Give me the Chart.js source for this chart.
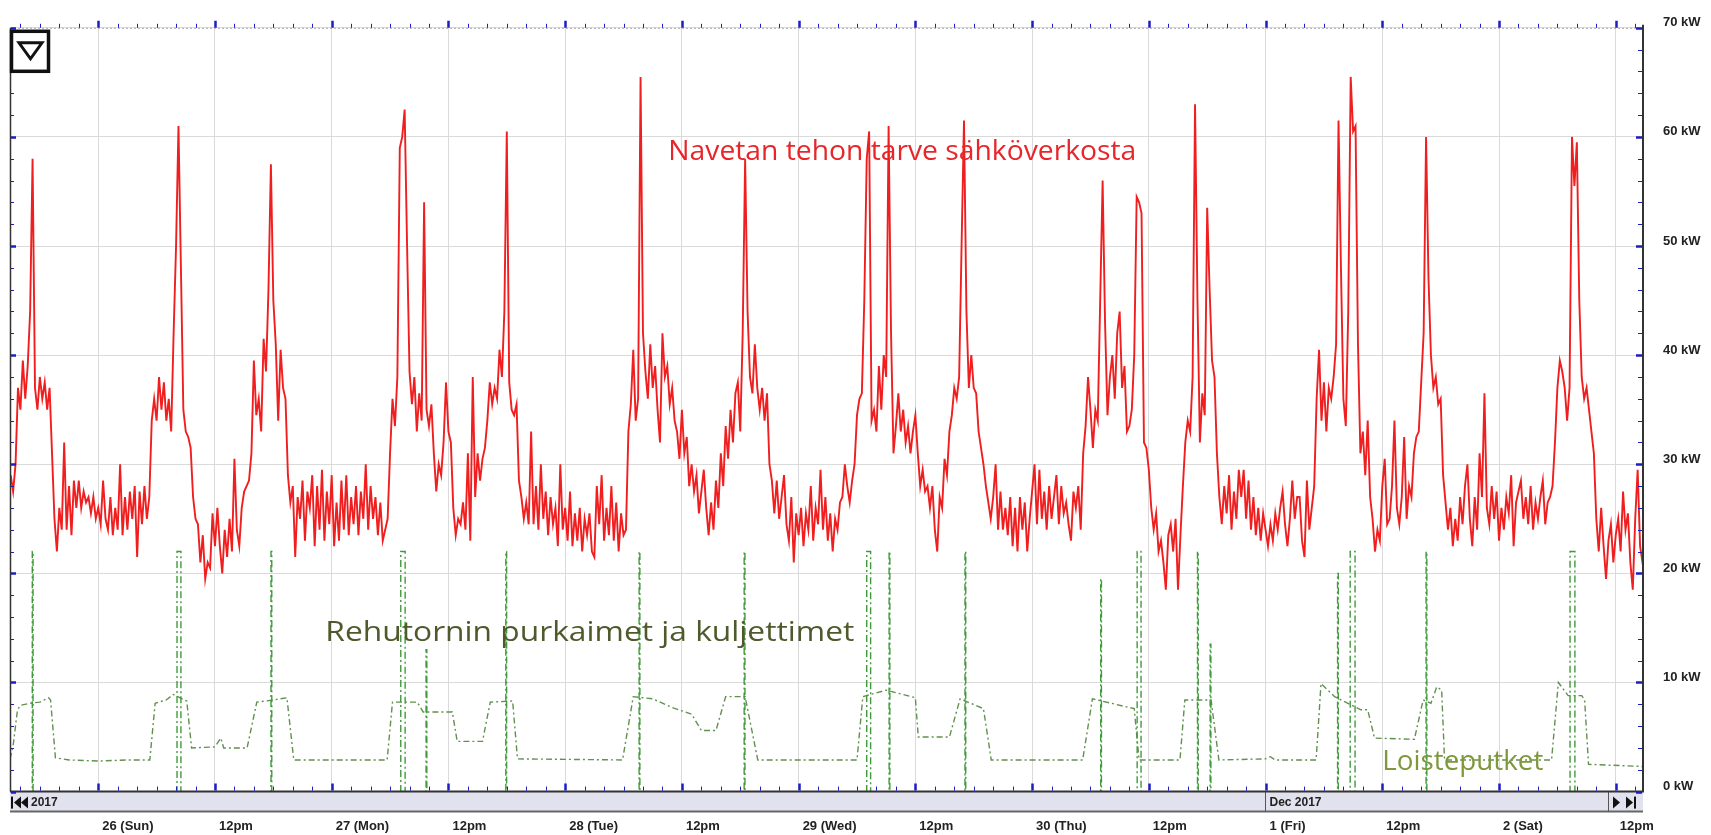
<!DOCTYPE html>
<html>
<head>
<meta charset="utf-8">
<script src="https://cdn.jsdelivr.net/npm/chart.js@4.4.1/dist/chart.umd.min.js"></script>
<style>
  html, body { margin: 0; padding: 0; background: #fff; }
  canvas { display: block; }
</style>
</head>
<body>
<canvas id="chart" width="1711" height="835"></canvas>
<script>
// time axis in hours from 26 Nov 2017 00:00
const loadStart = -9;
const loadStep = 0.25;
const loadKw = [
  // 25 Nov 15:00 - 24:00
  29, 27.5, 30, 37, 35, 39.5, 36, 39, 44, 58, 37, 35,
  38, 36, 37.5, 35, 37, 31, 25, 22, 26, 24, 32, 24,
  28, 23.5, 28.5, 26, 28.5, 26, 27.5, 26.5, 27, 25.5, 27, 25,
  // 26 Nov
  26, 24.5, 28.5, 25, 24, 27, 23.5, 26, 24, 30, 23.5, 27, 24, 27.5, 25, 28, 21.5, 27.5, 24.5, 28, 25, 27, 34, 36,
  34, 38, 35, 37.5, 34, 36, 33, 42, 50, 61, 48, 35, 33, 32.5, 31.5, 27, 25, 24.5, 21, 23.5, 19.5, 21, 20.5, 25.5,
  22.5, 26, 22.5, 20, 24, 21.5, 25, 22, 30.5, 24, 22.5, 26, 27.5, 28, 28.5, 31, 39.5, 34.5, 36, 33, 41.5, 38.5, 46, 57.5,
  45, 41, 34, 40.5, 37, 36, 29, 26.5, 28, 21.5, 27, 25, 28.5, 23, 27.5, 26, 29, 22.5, 28, 24, 29.5, 23, 27.5, 24.5,
  // 27 Nov
  29, 22.5, 26.5, 23, 28.5, 24, 29, 23.5, 27, 24.5, 28, 23.5, 27.5, 25, 30, 24, 28, 25, 27, 23.5, 26.5, 23, 24, 25,
  31, 36, 33.5, 38, 59, 60, 62.5, 50, 38.5, 35.5, 38, 33, 36.5, 34, 54, 35, 33.5, 35.5, 31, 27.5, 30, 29, 32, 37.5,
  33, 32, 26, 23.5, 25, 24.5, 26.5, 24, 31, 23, 38, 27, 31, 28.5, 30.5, 31.5, 34, 37.5, 35.5, 37, 36, 40.5, 38, 44,
  60.5, 37.5, 35, 34.5, 35.5, 28.5, 27, 25, 26.5, 24.5, 33, 24.5, 28, 24, 30, 25, 27.5, 23.5, 27, 24.5, 26, 22.5, 30, 24,
  // 28 Nov
  26, 23, 27.5, 22.5, 25.5, 23, 26, 22, 25, 23.5, 25.5, 22, 21.5, 28, 24.5, 29, 23, 26, 23.5, 28, 23, 26.5, 22, 25.5,
  23.5, 24, 33, 35.5, 40.5, 34, 36, 65.5, 42, 38.5, 36, 41, 37, 39, 35, 32, 42, 38, 39, 35.5, 37, 34, 33, 30.5,
  35, 31, 32.5, 28, 30, 27.5, 29, 25.5, 27.5, 29.5, 26, 23.5, 26.5, 24, 28.5, 26, 31, 28, 33.5, 30.5, 35, 32, 36.5, 37.5,
  33, 42, 58, 44, 38, 36.5, 41, 37, 35, 37, 34, 36.5, 30, 28.5, 25.5, 28.5, 25, 27, 29, 24.5, 23, 27, 21, 25.5,
  // 29 Nov
  23.5, 26, 22.5, 25.5, 24, 28, 23, 26, 24.5, 29.5, 24, 27, 23, 25.5, 22, 25, 24, 26.5, 27, 30, 28, 26.5, 28.5, 30,
  34.5, 36, 36.5, 45, 58, 60.5, 34, 35, 33, 39, 35, 40, 38, 61, 42, 31, 33.5, 36.5, 33, 35, 32, 33.5, 31, 33,
  34.5, 31, 28, 29.5, 27.5, 28, 26, 28, 24, 22, 27, 26, 30.5, 29, 33, 34.5, 37, 36, 38, 50, 61.5, 44, 37, 40,
  37, 36.5, 33, 31.5, 30, 28, 26.5, 25, 27, 30, 24, 27.5, 24, 26, 23.5, 27, 22.5, 26, 22, 27, 24, 26.5, 22, 25,
  // 30 Nov
  27.5, 30, 24.5, 29.5, 25, 27.5, 24, 28, 25, 27, 29, 24.5, 28, 25.5, 26.5, 24.5, 23, 27.5, 26, 28, 24, 31, 33.5, 38,
  35, 31.5, 35, 34, 45, 56, 43, 34.5, 38, 40, 36, 42, 44, 37, 39, 33, 33.5, 35, 40, 54.5, 54, 53, 32, 31.5,
  29.5, 26, 24, 25.5, 22, 23, 21, 18.5, 23.5, 24.5, 22, 25, 18.5, 23.5, 28, 32, 34, 33, 38, 63, 45, 32, 36.5, 34.5,
  53.5, 46, 39.5, 38, 31, 27, 24.5, 28, 25.5, 29, 24, 27.5, 25, 29.5, 27, 29.5, 25, 28.5, 24, 27, 23.5, 26, 23, 25.5,
  // 1 Dec
  24, 22.5, 24.5, 23, 25.5, 24, 26, 27.5, 24.5, 22.5, 25, 28.5, 25, 27, 27, 23, 21.5, 28.5, 24, 26, 28, 36, 40.5, 34,
  37.5, 33, 37, 36, 38, 41, 61.5, 48, 36, 33.5, 44, 65.5, 60.5, 61, 41, 31, 33, 29, 34, 27, 25, 22, 24, 23,
  28, 30.5, 24.5, 25, 28, 34, 26, 24.5, 27, 32.5, 25, 28, 27, 31, 32.5, 33, 37.5, 42, 60, 47, 40, 37, 38, 35.5,
  36, 29, 26.5, 24, 26, 22.5, 25, 23, 27, 24.5, 28, 30, 25, 22.5, 27, 24, 31, 27, 36.5, 26, 24.5, 28, 25, 27.5,
  // 2 Dec
  23, 26, 24, 27, 25.5, 29, 22.5, 26.5, 27.5, 28.5, 25, 27, 24.5, 28, 24, 26.5, 25, 27, 28.5, 24.5, 26.5, 27, 28, 32,
  37, 39.5, 38.5, 37, 34, 37, 60, 55.5, 59.5, 45, 38, 36, 37, 35, 33, 31, 25, 22, 26, 22.5, 19.5, 23, 24.5, 21,
  23.5, 25, 22, 27.5, 24, 25.5, 21, 18.5, 25, 29.5, 22.5, 21, 22
];

// feed tower unloaders and conveyors: on/off hour and level
const feedOn  = [-6.78, 8.1, 17.76, 31.1, 33.7, 41.9, 55.6, 66.4, 79.0, 81.3, 89.1, 103.05, 106.8, 113.0, 114.3, 127.4, 128.7, 136.5, 151.3];
const feedOff = [-6.7, 8.5, 17.84, 31.55, 33.78, 41.98, 55.68, 66.48, 79.4, 81.38, 89.18, 103.13, 107.2, 113.08, 114.38, 127.48, 129.2, 136.58, 151.8];
const feedKw  = [22, 22, 22, 22, 13, 22, 22, 22, 22, 22, 22, 19.5, 22, 22, 13.5, 20, 22, 22, 22];

// fluorescent lighting
const lightHours = [-9.07, -8.75, -8.3, -8.0, -7.0, -6.0, -5.1, -4.9, -4.4, -3.0, 0, 3, 5.3, 5.85, 7.0, 7.7, 9.1, 9.6, 12.0, 12.6,
  12.9, 15.3, 16.3, 18.0, 19.4, 20.1, 29.7, 30.25, 32.8, 33.4, 36.4, 36.9, 39.5, 40.3, 42.6, 43.1, 53.9, 55.0, 57.0, 59.0,
  61.0, 62.0, 63.5, 64.5, 66.5, 67.8, 78.0, 78.6, 81.0, 84.0, 84.3, 87.5, 88.6, 91.0, 91.8, 101.2, 102.2, 106.5, 107.0, 111.2,
  111.7, 114.4, 115.2, 120.0, 120.5, 121.0, 125.2, 125.7, 127.1, 129.8, 130.5, 131.2, 135.3, 136.2, 137.0, 137.6, 138.1, 138.4, 149.4, 150.1,
  151.1, 152.5, 152.8, 153.2, 158.8];
const lightKw = [3.0, 4.2, 7.5, 7.9, 8.1, 8.2, 8.6, 8.4, 3.1, 2.9, 2.8, 2.9, 2.9, 8.1, 8.4, 8.9, 8.3, 4.0, 4.1, 4.9,
  4.0, 4.0, 8.2, 8.4, 8.6, 2.9, 2.9, 8.2, 8.2, 7.3, 7.3, 4.6, 4.6, 8.2, 8.3, 3.0, 2.9, 8.7, 8.5, 7.7,
  7.1, 5.6, 5.6, 8.7, 8.7, 2.9, 2.9, 8.7, 9.3, 8.6, 5.0, 5.0, 8.5, 7.6, 2.9, 2.9, 8.5, 7.6, 2.9, 2.9,
  8.4, 8.4, 2.9, 3.0, 3.2, 2.9, 2.9, 9.9, 8.7, 7.5, 7.5, 4.9, 4.8, 8.4, 8.1, 9.6, 9.3, 2.9, 2.9, 10.0,
  8.8, 8.8, 8.4, 2.5, 2.3];

const tickLabels = ['26 (Sun)', '12pm', '27 (Mon)', '12pm', '28 (Tue)', '12pm', '29 (Wed)', '12pm',
  '30 (Thu)', '12pm', '1 (Fri)', '12pm', '2 (Sat)', '12pm'];

const loadPoints = loadKw.map((v, i) => ({ x: loadStart + i * loadStep, y: v }));
const feedPoints = [{ x: loadStart, y: 0 }];
feedOn.forEach((t, i) => {
  feedPoints.push({ x: t, y: 0 }, { x: t, y: feedKw[i] }, { x: feedOff[i], y: feedKw[i] }, { x: feedOff[i], y: 0 });
});
feedPoints.push({ x: 159, y: 0 });
const lightPoints = lightHours.map((h, i) => ({ x: h, y: lightKw[i] }));

const labelFont = { family: '"Liberation Sans", Arial, sans-serif', size: 13, weight: 'bold' };

function fitText(ctx, text, px, py, width, color) {
  ctx.save();
  ctx.font = '28px "Open Sans", sans-serif';
  const w = ctx.measureText(text).width;
  ctx.translate(px, py);
  ctx.scale(width / w, 1);
  ctx.fillStyle = color;
  ctx.textBaseline = 'alphabetic';
  ctx.fillText(text, 0, 0);
  ctx.restore();
}

function tri(ctx, pts) {
  ctx.beginPath();
  ctx.moveTo(pts[0], pts[1]);
  ctx.lineTo(pts[2], pts[3]);
  ctx.lineTo(pts[4], pts[5]);
  ctx.closePath();
  ctx.fill();
}

const decor = {
  id: 'decor',
  afterDatasetsDraw(chart) {
    const { ctx, scales: { x, y } } = chart;
    fitText(ctx, 'Navetan tehon tarve sähköverkosta', x.getPixelForValue(58.6), y.getPixelForValue(57.9), 468, '#e8262a');
    fitText(ctx, 'Rehutornin purkaimet ja kuljettimet', x.getPixelForValue(23.35), y.getPixelForValue(13.8), 529, '#4f5a2c');
    fitText(ctx, 'Loisteputket', x.getPixelForValue(132.0), y.getPixelForValue(2.0), 161, '#7f983c');
  },
  afterDraw(chart) {
    const { ctx, chartArea: a, scales: { x, y } } = chart;
    ctx.save();

    // scroll bar under the plot
    ctx.fillStyle = '#e2e2ee';
    ctx.fillRect(a.left, a.bottom, a.right - a.left, 20);
    ctx.strokeStyle = '#666';
    ctx.lineWidth = 2;
    ctx.beginPath();
    ctx.moveTo(a.left, a.bottom + 20);
    ctx.lineTo(a.right, a.bottom + 20);
    ctx.stroke();
    ctx.lineWidth = 1;
    ctx.strokeStyle = '#555';
    const dec = Math.round(x.getPixelForValue(120)) - 0.5;
    ctx.beginPath();
    ctx.moveTo(dec, a.bottom); ctx.lineTo(dec, a.bottom + 20);
    ctx.moveTo(a.right - 34.5, a.bottom); ctx.lineTo(a.right - 34.5, a.bottom + 20);
    ctx.stroke();
    ctx.fillStyle = '#111';
    const cy = a.bottom + 11;
    ctx.fillRect(a.left + 1, cy - 6, 2, 12);
    tri(ctx, [a.left + 11, cy - 6, a.left + 4, cy, a.left + 11, cy + 6]);
    tri(ctx, [a.left + 18, cy - 6, a.left + 11, cy, a.left + 18, cy + 6]);
    tri(ctx, [a.right - 30, cy - 6, a.right - 23, cy, a.right - 30, cy + 6]);
    tri(ctx, [a.right - 17, cy - 6, a.right - 10, cy, a.right - 17, cy + 6]);
    ctx.fillRect(a.right - 9, cy - 6, 2, 12);
    ctx.font = 'bold 12px "Liberation Sans", Arial, sans-serif';
    ctx.textBaseline = 'middle';
    ctx.fillStyle = '#222';
    ctx.fillText('2017', a.left + 21, cy);
    ctx.fillText('Dec 2017', dec + 4, cy);

    // frame
    ctx.strokeStyle = '#aaa';
    ctx.setLineDash([2, 2]);
    ctx.beginPath();
    ctx.moveTo(a.left, a.top + 0.5); ctx.lineTo(a.right, a.top + 0.5);
    ctx.stroke();
    ctx.setLineDash([]);
    ctx.strokeStyle = '#333';
    ctx.lineWidth = 1.5;
    ctx.beginPath();
    ctx.moveTo(a.left + 0.5, a.top); ctx.lineTo(a.left + 0.5, a.bottom);
    ctx.stroke();
    ctx.lineWidth = 2;
    ctx.beginPath();
    ctx.moveTo(a.right, a.top - 3); ctx.lineTo(a.right, a.bottom + 1);
    ctx.moveTo(a.left, a.bottom); ctx.lineTo(a.right, a.bottom);
    ctx.stroke();

    // blue tick marks
    ctx.strokeStyle = '#1c1cc8';
    for (let h = -8; h <= 158; h += 2) {
      const px = Math.round(x.getPixelForValue(h)) + 0.5;
      const major = h % 12 === 0;
      ctx.lineWidth = major ? 2.5 : 1;
      const len = major ? 7 : 4;
      ctx.beginPath();
      ctx.moveTo(px, a.top); ctx.lineTo(px, a.top - len);
      ctx.moveTo(px, a.bottom - 1); ctx.lineTo(px, a.bottom - 1 - len);
      ctx.stroke();
    }
    for (let v = 0; v <= 70; v += 2) {
      const py = Math.round(y.getPixelForValue(v)) + 0.5;
      const major = v % 10 === 0;
      ctx.lineWidth = major ? 2.5 : 1;
      ctx.beginPath();
      ctx.moveTo(a.left + 1, py); ctx.lineTo(a.left + (major ? 6 : 4), py);
      ctx.moveTo(a.right - 1, py); ctx.lineTo(a.right - (major ? 7 : 5), py);
      ctx.stroke();
    }

    // menu button in the corner
    ctx.fillStyle = '#fff';
    ctx.fillRect(a.left + 1, a.top + 3, 38, 41);
    ctx.strokeStyle = '#111';
    ctx.lineWidth = 3.5;
    ctx.strokeRect(a.left + 1.5, a.top + 3.5, 37, 40);
    ctx.lineWidth = 3;
    ctx.lineJoin = 'miter';
    ctx.beginPath();
    ctx.moveTo(a.left + 9, a.top + 15);
    ctx.lineTo(a.left + 32, a.top + 15);
    ctx.lineTo(a.left + 20.5, a.top + 31);
    ctx.closePath();
    ctx.stroke();
    ctx.restore();
  }
};

new Chart(document.getElementById('chart'), {
  type: 'line',
  data: {
    datasets: [
      { label: 'Navetan tehon tarve sähköverkosta', data: loadPoints, borderColor: '#f01e1e', borderWidth: 1.9 },
      { label: 'Rehutornin purkaimet ja kuljettimet', data: feedPoints, borderColor: '#3f9a3a', borderWidth: 1.4, borderDash: [7, 3, 2, 3] },
      { label: 'Loisteputket', data: lightPoints, borderColor: '#62904f', borderWidth: 1.4, borderDash: [6, 3, 2, 3] }
    ]
  },
  options: {
    responsive: false,
    animation: false,
    devicePixelRatio: 1,
    parsing: false,
    layout: { padding: { left: 10, top: 26, right: 0, bottom: 0 } },
    plugins: { legend: { display: false }, tooltip: { enabled: false } },
    elements: { point: { radius: 0 }, line: { tension: 0, fill: false } },
    scales: {
      x: {
        type: 'linear',
        min: -9.07,
        max: 158.8,
        afterBuildTicks: s => { s.ticks = tickLabels.map((_, i) => ({ value: i * 12 })); },
        afterFit: s => { s.height = 43.4; },
        grid: { color: '#dadada', drawTicks: false },
        border: { display: false },
        ticks: {
          align: 'start', padding: 27, labelOffset: 4, maxRotation: 0, autoSkip: false,
          color: '#222', font: labelFont,
          callback: v => tickLabels[Math.round(v / 12)]
        }
      },
      y: {
        position: 'right',
        min: 0,
        max: 70,
        afterFit: s => { s.width = 68; },
        grid: { color: '#dadada', drawTicks: false },
        border: { display: false },
        ticks: { stepSize: 10, padding: 20, labelOffset: -5, color: '#222', font: labelFont, callback: v => v + ' kW' }
      }
    }
  },
  plugins: [decor]
});
</script>
</body>
</html>
